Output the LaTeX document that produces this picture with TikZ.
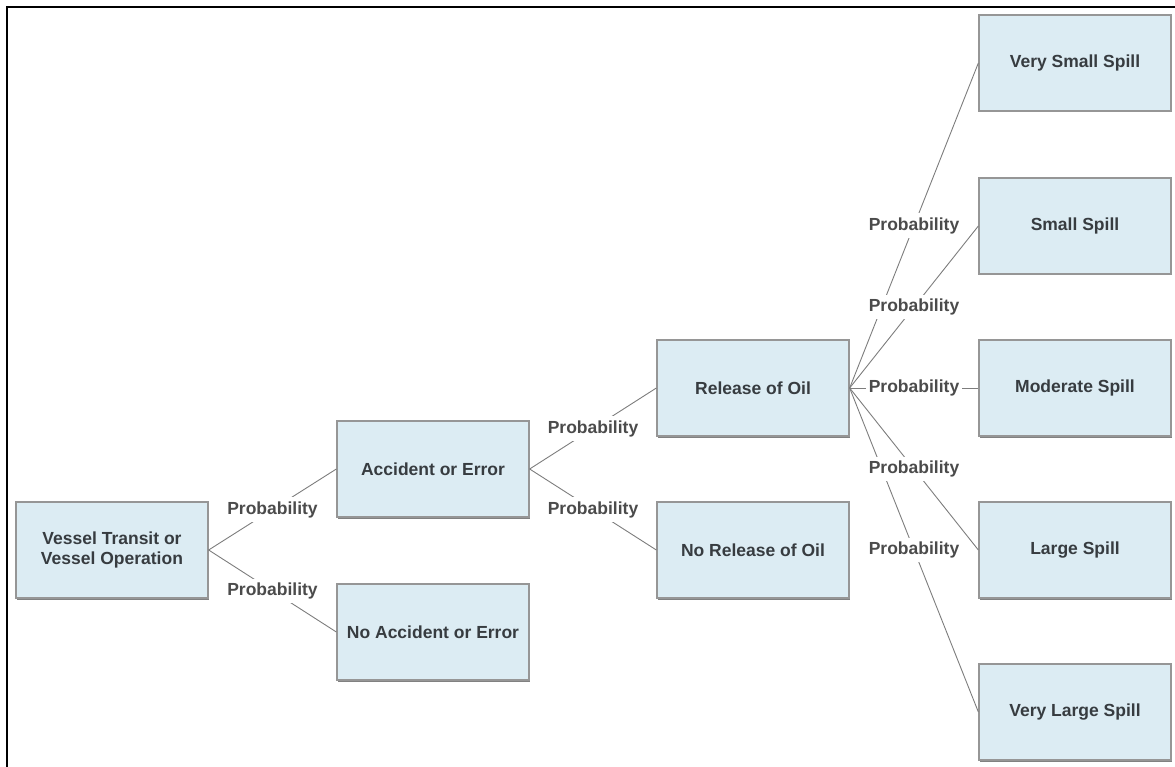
\documentclass[tikz,border=0pt]{standalone}
\usepackage{fontspec}
\setmainfont{Liberation Sans}
\usetikzlibrary{shadows}
\definecolor{boxfill}{RGB}{220,236,243}
\definecolor{boxborder}{RGB}{150,150,150}
\definecolor{boxtext}{RGB}{55,60,64}
\definecolor{labtext}{RGB}{75,75,75}
\definecolor{linecol}{RGB}{125,125,125}
\begin{document}
\begin{tikzpicture}[x=1pt,y=-1pt,
  box/.style={draw=boxborder, line width=1.3pt, fill=boxfill,
    minimum width=192pt, minimum height=96pt, inner sep=0pt, align=center,
    font=\fontsize{17.5}{20}\selectfont\bfseries, text=boxtext,
    drop shadow={shadow xshift=1.2pt, shadow yshift=-1.5pt, fill=black!55, opacity=0.9}},
  conn/.style={draw=linecol, line width=0.9pt},
  lab/.style={fill=white, inner xsep=3pt, inner ysep=4pt,
    font=\fontsize{17.5}{20}\selectfont\bfseries, text=labtext},
  frame/.style={draw=black, line width=2.6pt}]
\useasboundingbox (0,0) rectangle (1175,767);
\coordinate (fb) at (7,767);
\coordinate (fc) at (7,7);
\coordinate (fr) at (1175,7);
\draw[frame] (fb) -- (fc) -- (fr);

\node[box] (v)  at (112,550) {Vessel Transit or\\Vessel Operation};
\node[box] (a)  at (433,469) {Accident or Error};
\node[box] (na) at (433,632) {No Accident or Error};
\node[box] (r)  at (753,388) {Release of Oil};
\node[box] (nr) at (753,550) {No Release of Oil};
\node[box] (s1) at (1075,63)  {Very Small Spill};
\node[box] (s2) at (1075,226) {Small Spill};
\node[box] (s3) at (1075,388) {Moderate Spill};
\node[box] (s4) at (1075,550) {Large Spill};
\node[box] (s5) at (1075,712) {Very Large Spill};

\draw[conn] (v.east) -- (a.west);
\draw[conn] (v.east) -- (na.west);
\draw[conn] (a.east) -- (r.west);
\draw[conn] (a.east) -- (nr.west);
\draw[conn] (r.east) -- (s1.west);
\draw[conn] (r.east) -- (s2.west);
\draw[conn] (r.east) -- (s3.west);
\draw[conn] (r.east) -- (s4.west);
\draw[conn] (r.east) -- (s5.west);

\path (v.east) -- node[lab] {Probability} (a.west);
\path (v.east) -- node[lab] {Probability} (na.west);
\path (a.east) -- node[lab] {Probability} (r.west);
\path (a.east) -- node[lab] {Probability} (nr.west);
\path (r.east) -- node[lab] {Probability} (s1.west);
\path (r.east) -- node[lab] {Probability} (s2.west);
\path (r.east) -- node[lab] {Probability} (s3.west);
\path (r.east) -- node[lab] {Probability} (s4.west);
\path (r.east) -- node[lab] {Probability} (s5.west);
\end{tikzpicture}
\end{document}
